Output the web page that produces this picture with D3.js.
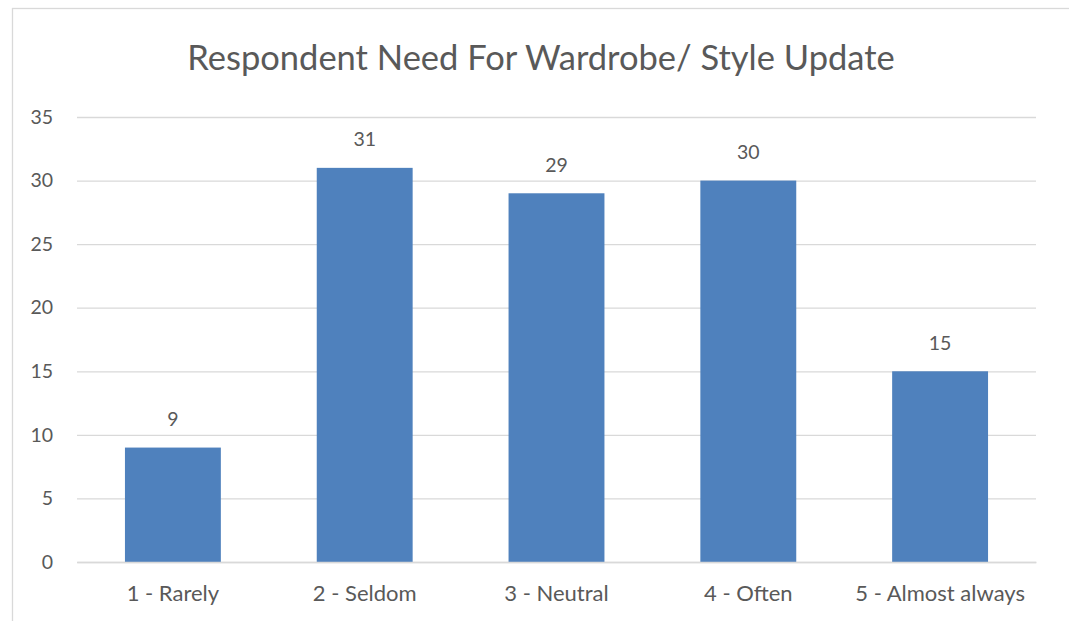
<!DOCTYPE html>
<html>
<head>
<meta charset="utf-8">
<script src="https://cdn.jsdelivr.net/npm/d3@7"></script>
<style>
  html, body { margin: 0; padding: 0; background: #fff; }
  svg { display: block; }
  text { font-family: Lato, "Open Sans", sans-serif; fill: #595959; }
</style>
</head>
<body>
<svg id="chart" width="1069" height="621"></svg>
<script>
// Survey responses: how often respondents feel the need to update wardrobe/style
const categories = ["1 - Rarely", "2 - Seldom", "3 - Neutral", "4 - Often", "5 - Almost always"];
const counts = [9, 31, 29, 30, 15];
const yTicks = [0, 5, 10, 15, 20, 25, 30, 35];
const title = "Respondent Need For Wardrobe/ Style Update";

const svg = d3.select("#chart");
const plot = { left: 77, right: 1036, top: 117, bottom: 562 };
const labelFont = "Lato, 'Open Sans', sans-serif";

// Chart frame
svg.append("rect")
  .attr("x", 12.5).attr("y", 8.5)
  .attr("width", 1080).attr("height", 640)
  .attr("fill", "#fff")
  .attr("stroke", "#d9d9d9").attr("stroke-width", 1.3);

const x = d3.scaleBand()
  .domain(categories)
  .range([plot.left, plot.right])
  .paddingInner(0.5).paddingOuter(0.25);

const y = d3.scaleLinear()
  .domain([0, 35])
  .range([plot.bottom, plot.top]);

// Gridlines and y-axis labels
const yAxis = d3.axisLeft(y).tickValues(yTicks).tickSize(-(plot.right - plot.left)).tickPadding(24);
const gy = svg.append("g").attr("transform", `translate(${plot.left},0)`).call(yAxis);
gy.select(".domain").remove();
gy.selectAll(".tick line").attr("stroke", "#d9d9d9").attr("stroke-width", 1.3);
gy.selectAll(".tick text")
  .attr("font-size", 19.5).attr("fill", "#595959")
  .style("font-family", labelFont);

// Bars
svg.append("g").selectAll("rect")
  .data(counts)
  .join("rect")
  .attr("x", (d, i) => x(categories[i]))
  .attr("y", d => y(d))
  .attr("width", x.bandwidth())
  .attr("height", d => y(0) - y(d))
  .attr("fill", "#4f81bd");

// Value labels
svg.append("g").selectAll("text")
  .data(counts)
  .join("text")
  .attr("x", (d, i) => x(categories[i]) + x.bandwidth() / 2)
  .attr("y", d => y(d) - 35.5)
  .attr("dy", "0.71em")
  .attr("text-anchor", "middle")
  .attr("font-size", 19.5)
  .text(d => d);

// Category axis
const xAxis = d3.axisBottom(x).tickSize(0).tickPadding(23);
const gx = svg.append("g").attr("transform", `translate(0,${plot.bottom})`).call(xAxis);
gx.select(".domain").attr("stroke", "#d9d9d9").attr("stroke-width", 1.3);
gx.selectAll(".tick text")
  .attr("font-size", 22).attr("fill", "#595959")
  .style("font-family", labelFont);

// Title
svg.append("text")
  .attr("x", 541).attr("y", 70)
  .attr("text-anchor", "middle")
  .attr("font-size", 34.5)
  .text(title);
</script>
</body>
</html>
